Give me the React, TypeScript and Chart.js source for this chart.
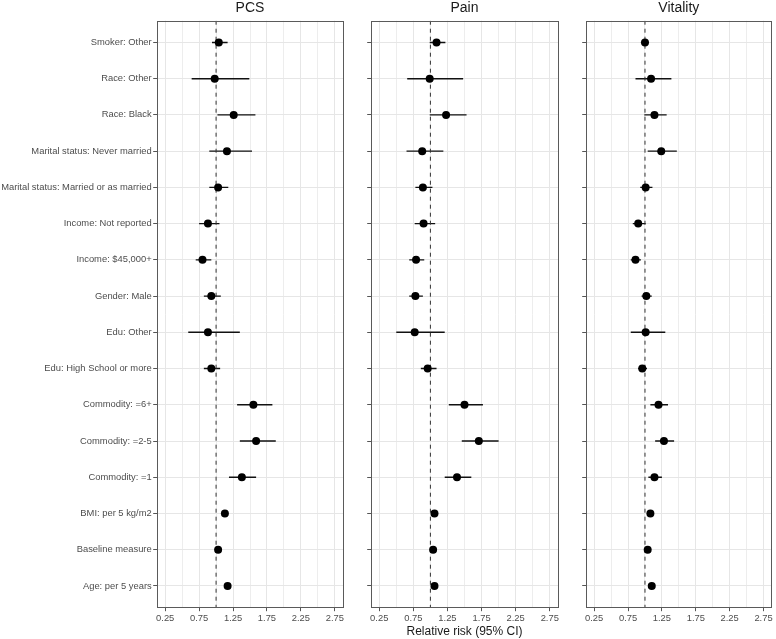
import React, { useEffect, useRef } from "react";
import { Chart, registerables } from "chart.js";
Chart.register(...registerables);

const categories = [
  "Smoker: Other",
  "Race: Other",
  "Race: Black",
  "Marital status: Never married",
  "Marital status: Married or as married",
  "Income: Not reported",
  "Income: $45,000+",
  "Gender: Male",
  "Edu: Other",
  "Edu: High School or more",
  "Commodity: =6+",
  "Commodity: =2-5",
  "Commodity: =1",
  "BMI: per 5 kg/m2",
  "Baseline measure",
  "Age: per 5 years",
];

const pcsEst = [1.04, 0.98, 1.26, 1.16, 1.03, 0.88, 0.8, 0.93, 0.88, 0.93, 1.55, 1.59, 1.38, 1.13, 1.03, 1.17];
const pcsLo = [0.94, 0.64, 1.02, 0.9, 0.9, 0.75, 0.7, 0.82, 0.59, 0.82, 1.31, 1.35, 1.19, 1.1, 1.01, 1.14];
const pcsHi = [1.17, 1.49, 1.58, 1.53, 1.18, 1.05, 0.93, 1.07, 1.35, 1.06, 1.83, 1.88, 1.59, 1.16, 1.05, 1.2];

const painEst = [1.09, 0.99, 1.23, 0.88, 0.89, 0.9, 0.79, 0.78, 0.77, 0.96, 1.5, 1.71, 1.39, 1.06, 1.04, 1.06];
const painLo = [0.99, 0.66, 0.99, 0.65, 0.78, 0.77, 0.69, 0.69, 0.5, 0.86, 1.27, 1.46, 1.21, 1.03, 1.02, 1.03];
const painHi = [1.22, 1.48, 1.53, 1.19, 1.03, 1.07, 0.91, 0.89, 1.21, 1.09, 1.77, 2.0, 1.6, 1.09, 1.07, 1.09];

const vitEst = [1.0, 1.09, 1.14, 1.24, 1.01, 0.9, 0.86, 1.02, 1.01, 0.96, 1.2, 1.28, 1.14, 1.08, 1.04, 1.1];
const vitLo = [0.94, 0.86, 0.99, 1.04, 0.93, 0.82, 0.79, 0.95, 0.79, 0.9, 1.08, 1.15, 1.05, 1.05, 1.02, 1.07];
const vitHi = [1.06, 1.39, 1.32, 1.47, 1.11, 1.01, 0.94, 1.1, 1.3, 1.03, 1.34, 1.43, 1.25, 1.11, 1.06, 1.13];

const xMajorTicks = [0.25, 0.75, 1.25, 1.75, 2.25, 2.75];
const xMinorTicks = [0.5, 1.0, 1.5, 2.0, 2.5];
const xTickLabels = ["0.25", "0.75", "1.25", "1.75", "2.25", "2.75"];
const referenceValue = 1;

const X_MIN = 0.125;
const X_MAX = 2.875;
const Y_MIN = -0.6;
const Y_MAX = categories.length - 1 + 0.6;

const FONT = "'Liberation Sans', Arial, sans-serif";

const borderPlugin = {
  id: "panelBorder",
  afterDraw(chart: any) {
    const { ctx, chartArea } = chart;
    const { left, top, right, bottom } = chartArea;
    ctx.save();
    ctx.strokeStyle = "#5a5a5a";
    ctx.lineWidth = 1;
    ctx.strokeRect(Math.round(left) + 0.5, Math.round(top) + 0.5, Math.round(right - left) - 1, Math.round(bottom - top) - 1);
    ctx.restore();
  },
};

type PanelProps = {
  title: string;
  est: number[];
  lo: number[];
  hi: number[];
  left: number;
  width: number;
  axisWidth: number;
  padRight: number;
  showLabels: boolean;
  xTitle: string;
};

const isMajor = (v: number) => xMajorTicks.some((m) => Math.abs(m - v) < 1e-6);

function Panel(p: PanelProps) {
  const ref = useRef<HTMLCanvasElement | null>(null);
  useEffect(() => {
    if (!ref.current) return;
    const ciData: any[] = [];
    p.lo.forEach((l, i) => {
      ciData.push({ x: l, y: i });
      ciData.push({ x: p.hi[i], y: i });
      ciData.push({ x: p.hi[i], y: null });
    });
    const chart = new Chart(ref.current, {
      type: "scatter",
      data: {
        datasets: [
          {
            type: "scatter",
            data: p.est.map((v, i) => ({ x: v, y: i })),
            pointRadius: 4,
            pointBackgroundColor: "#000",
            pointBorderWidth: 0,
            order: 0,
          } as any,
          {
            type: "line",
            data: [
              { x: referenceValue, y: Y_MIN },
              { x: referenceValue, y: Y_MAX },
            ],
            borderColor: "#333",
            borderWidth: 1,
            borderDash: [4, 4],
            pointRadius: 0,
            order: 1,
          } as any,
          {
            type: "line",
            data: ciData,
            borderColor: "#111",
            borderWidth: 1.4,
            pointRadius: 0,
            spanGaps: false,
            order: 2,
          } as any,
        ],
      },
      options: {
        animation: false,
        responsive: false,
        events: [],
        layout: { padding: { left: 0, right: p.padRight, top: 0, bottom: 0 } },
        plugins: {
          legend: { display: false },
          tooltip: { enabled: false },
          title: {
            display: true,
            text: p.title,
            color: "#1a1a1a",
            font: { family: FONT, size: 14, weight: "normal" as any },
            padding: { top: 0, bottom: 3.9 },
            fullSize: false,
          } as any,
        },
        scales: {
          x: {
            type: "linear",
            min: X_MIN,
            max: X_MAX,
            afterBuildTicks: (scale: any) => {
              scale.ticks = [...xMajorTicks, ...xMinorTicks].sort((a, b) => a - b).map((v) => ({ value: v }));
            },
            afterFit: (scale: any) => {
              scale.height = 31.3;
            },
            ticks: {
              autoSkip: false,
              maxRotation: 0,
              padding: 1.5,
              color: "#4d4d4d",
              font: { family: FONT, size: 9.4 },
              callback: (v: any) => {
                const idx = xMajorTicks.findIndex((m) => Math.abs(m - v) < 1e-6);
                return idx >= 0 ? xTickLabels[idx] : "";
              },
            },
            grid: {
              color: (ctx: any) => (ctx.tick && isMajor(ctx.tick.value) ? "#e6e6e6" : "#ededed"),
              lineWidth: 1,
              tickLength: 3.5,
              tickColor: (ctx: any) => (ctx.tick && isMajor(ctx.tick.value) ? "#555" : "rgba(0,0,0,0)"),
            },
            border: { display: false },
            title: {
              display: p.xTitle !== "",
              text: p.xTitle,
              color: "#1a1a1a",
              font: { family: FONT, size: 12 },
              padding: { top: 0, bottom: 0 },
            },
          },
          y: {
            type: "linear",
            min: Y_MIN,
            max: Y_MAX,
            reverse: true,
            afterBuildTicks: (scale: any) => {
              scale.ticks = categories.map((_, i) => ({ value: i }));
            },
            afterFit: (scale: any) => {
              scale.width = p.axisWidth;
            },
            ticks: {
              autoSkip: false,
              padding: 1.5,
              color: "#4d4d4d",
              font: { family: FONT, size: 9.4 },
              callback: (v: any) => (p.showLabels ? categories[v] : ""),
            },
            grid: {
              color: "#e6e6e6",
              lineWidth: 1,
              tickLength: 3.5,
              tickColor: "#555",
            },
            border: { display: false },
          },
        },
      },
      plugins: [borderPlugin],
    });
    return () => chart.destroy();
  }, []);
  return (
    <canvas
      ref={ref}
      width={p.width}
      height={639}
      style={{ position: "absolute", left: p.left, top: 0, width: p.width, height: 639 }}
    />
  );
}

export default function App() {
  return (
    <div style={{ position: "absolute", left: 0, top: 0, width: 776, height: 639, background: "#fff" }}>
      <Panel title="PCS" est={pcsEst} lo={pcsLo} hi={pcsHi} left={0} width={350} axisWidth={156.7} padRight={6.7} showLabels={true} xTitle="" />
      <Panel title="Pain" est={painEst} lo={painLo} hi={painHi} left={350} width={215} axisWidth={20.7} padRight={6.7} showLabels={false} xTitle="Relative risk (95% CI)" />
      <Panel title="Vitality" est={vitEst} lo={vitLo} hi={vitHi} left={565} width={211} axisWidth={20.7} padRight={2.7} showLabels={false} xTitle="" />
    </div>
  );
}
